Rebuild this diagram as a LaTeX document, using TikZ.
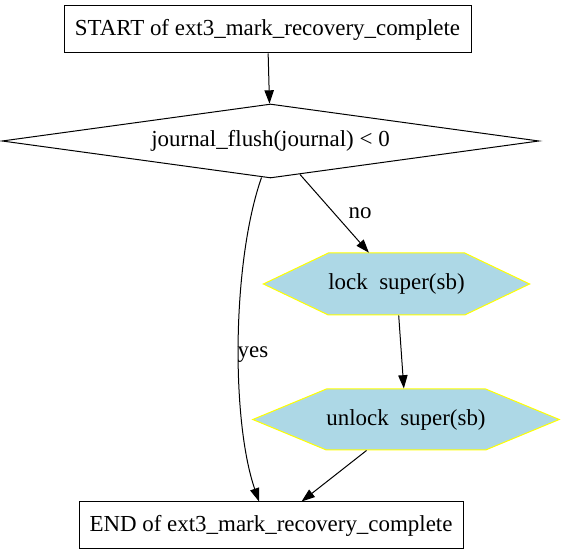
\documentclass[tikz,border=0pt]{standalone}
\usepackage{fontspec}
\setmainfont{Liberation Serif}
\usepackage{tikz}
\usetikzlibrary{shapes}
\usetikzlibrary{positioning}
\usetikzlibrary{arrows.meta}
\usetikzlibrary{calc}
\definecolor{hexfill}{HTML}{ADD8E6}
\definecolor{hexline}{HTML}{FFFF00}
\newcommand{\pxu}{0.75pt}
\tikzset{
  endbox/.style={draw, rectangle, line width=\pxu, inner sep=0pt, align=center},
  testbox/.style={draw, diamond, line width=\pxu, inner sep=0pt, aspect=7},
  callbox/.style={draw=hexline, fill=hexfill, signal, signal to=west and east, line width=\pxu, inner sep=0pt},
  flow/.style={-{Triangle[length=10pt, width=7pt]}, line width=\pxu}
}

\begin{document}
\begin{tikzpicture}[x=\pxu, y=-\pxu, font=\fontsize{17.2}{20.6}\selectfont, auto]
            \useasboundingbox (0,0) rectangle (564,555);
            \node[endbox, minimum width=407*\pxu, minimum height=47*\pxu] (start) at (267.5,29.5) {START of ext3\_mark\_recovery\_complete};
            \node[testbox, minimum width=537*\pxu, minimum height=74*\pxu] (flush) at (270.5,141) {journal\_flush(journal) < 0};
            \node[callbox, signal pointer angle=51, minimum width=265*\pxu, minimum height=62*\pxu] (lock) at (396.5,284) {lock\ \ super(sb)};
            \node[callbox, signal pointer angle=45, minimum width=302*\pxu, minimum height=61*\pxu] (unlock) at (406,419.5) {unlock\ \ super(sb)};
            \node[endbox, minimum width=384*\pxu, minimum height=47*\pxu] (end) at (271,525.5) {END of ext3\_mark\_recovery\_complete};
            \draw[flow] (start) -- (flush);
            \draw[flow] ($(flush.south)+(-9,-1)$) .. controls (232,262) and (231,420) .. node[pos=0.54, right=-4.5pt] {yes} ($(end.north)+(-12,0)$);
            \draw[flow] (flush) -- node[pos=0.5, right=7pt] {no} (lock);
            \draw[flow] (lock) -- (unlock);
            \draw[flow] (unlock) -- (end);
        \end{tikzpicture}
\end{document}
